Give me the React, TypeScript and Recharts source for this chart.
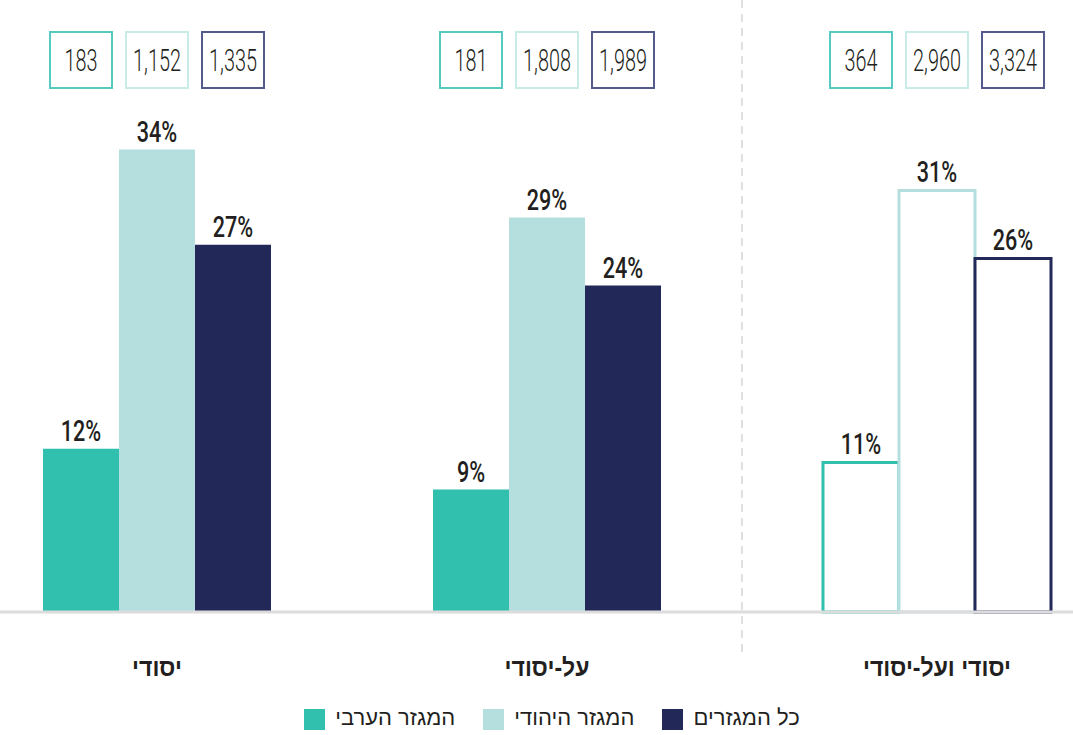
import React from 'react'
import { BarChart, Bar, XAxis, YAxis, Legend, LabelList, Cell, ReferenceLine } from 'recharts'

const categories = ['יסודי', 'על-יסודי', 'יסודי ועל-יסודי']
const arabShare = [12, 9, 11]
const jewishShare = [34, 29, 31]
const allShare = [27, 24, 26]
const arabCount = ['183', '181', '364']
const jewishCount = ['1,152', '1,808', '2,960']
const allCount = ['1,335', '1,989', '3,324']

const seriesNames = ['המגזר הערבי', 'המגזר היהודי', 'כל המגזרים']
const fills = ['#31bfae', '#b5dfdf', '#222857']
const boxStrokes = ['#55cbc0', '#c9ebe8', '#545b8a']

const data = categories.map((name, i) => ({
  name,
  arab: arabShare[i],
  jewish: jewishShare[i],
  all: allShare[i],
  arabN: arabCount[i],
  jewishN: jewishCount[i],
  allN: allCount[i],
}))

const NUM_FONT = "Roboto, 'DejaVu Sans', sans-serif"
const HEB_FONT = "'Liberation Sans', 'DejaVu Sans', sans-serif"
const TEXT = '#231f20'

// narrow text: the source uses a condensed face we don't have
function Narrow({ x, y, sx, children, ...rest }: any) {
  return (
    <text transform={`translate(${x} ${y}) scale(${sx} 1)`} textAnchor="middle" fill={TEXT} {...rest}>
      {children}
    </text>
  )
}

function countBox(stroke: string) {
  return (props: any) => {
    const { x, width, y, height, value } = props
    const cx = x + width / 2
    const top = y + height - 580
    return (
      <g>
        <rect x={cx - 31} y={top} width={62} height={56} fill="#fff" stroke={stroke} strokeWidth={2} />
        <Narrow x={cx} y={top + 39} sx={0.64} fontFamily={NUM_FONT} fontWeight={300} fontSize={31}>
          {value}
        </Narrow>
      </g>
    )
  }
}

function percentLabel(props: any) {
  const { x, width, y, value } = props
  return (
    <Narrow x={x + width / 2} y={y - 8} sx={0.72} fontFamily={NUM_FONT} fontWeight={500} fontSize={30}>
      {`${value}%`}
    </Narrow>
  )
}

function CategoryTick(props: any) {
  const { x, y, payload } = props
  return (
    <Narrow x={x} y={y + 56} sx={0.92} fontFamily={HEB_FONT} fontWeight={700} fontSize={25}>
      {payload.value}
    </Narrow>
  )
}

function Separator(props: any) {
  const { x1, y1, x2, y2 } = props
  const top = Math.min(y1, y2)
  const bottom = Math.max(y1, y2)
  return <line x1={x1} y1={top} x2={x2} y2={bottom + 46} stroke="#d6d6d6" strokeWidth={1.5} strokeDasharray="8 6" />
}

const keys = ['arab', 'jewish', 'all']
const countKeys = ['arabN', 'jewishN', 'allN']

export default function App() {
  return (
    <div style={{ position: 'fixed', left: 0, top: 0, width: 1073, height: 735, overflow: 'hidden', background: '#fff' }}>
      <div style={{ position: 'absolute', left: -38, top: 0 }}>
        <BarChart
          width={1170}
          height={735}
          data={data}
          margin={{ top: 0, right: 0, left: 0, bottom: 0 }}
          barCategoryGap={81}
          barGap={0}
        >
          <XAxis
            dataKey="name"
            height={93}
            axisLine={{ stroke: '#dcdcdc', strokeWidth: 3 }}
            tickLine={false}
            tick={<CategoryTick />}
            interval={0}
          />
          <YAxis hide domain={[0, 45]} />
          <ReferenceLine x={categories[2]} position="start" shape={<Separator />} />
          {keys.map((k, s) => (
            <Bar key={k} dataKey={k} name={seriesNames[s]} fill={fills[s]} isAnimationActive={false}>
              {data.map((d, i) =>
                i === 2 ? (
                  <Cell key={i} fill="#fff" stroke={fills[s]} strokeWidth={3} />
                ) : (
                  <Cell key={i} fill={fills[s]} />
                )
              )}
              <LabelList dataKey={k} content={percentLabel} />
              <LabelList dataKey={countKeys[s]} content={countBox(boxStrokes[s])} />
            </Bar>
          ))}
          <Legend
            verticalAlign="bottom"
            align="center"
            iconType="square"
            iconSize={21}
            itemSorter={(item: any) => keys.indexOf(item.dataKey)}
            wrapperStyle={{ height: 30, fontFamily: HEB_FONT, fontSize: 22, paddingLeft: 10 }}
            formatter={(value: string, _entry: any, index: number) => (
              <span style={{ color: TEXT, padding: index < 2 ? '0 18px 0 6px' : '0 0 0 6px' }}>{value}</span>
            )}
          />
        </BarChart>
      </div>
    </div>
  )
}
